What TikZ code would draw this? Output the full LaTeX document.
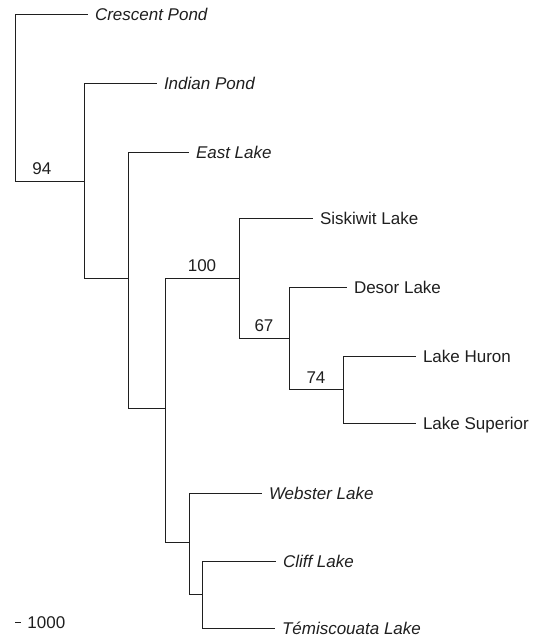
\documentclass[tikz,border=0pt]{standalone}
\usepackage{fontspec}
\setmainfont{Liberation Sans}

\begin{document}
\begin{tikzpicture}[x=1pt,y=-1pt,line width=0.8pt,color=black!88,
 leaf/.style={anchor=west,inner sep=3.5pt,outer sep=3.5pt,text height=12.2pt,text depth=0pt,font=\fontsize{17}{20}\selectfont},
 tax/.style={leaf,font=\fontsize{17}{20}\selectfont\itshape},
 boot/.style={above,inner sep=0pt,yshift=5.5pt,font=\fontsize{17}{20}\selectfont}]
\useasboundingbox (0,0) rectangle (539,638);
% tips
\node[tax] (cp) at (88,14) {Crescent Pond};
\node[tax] (ip) at (157,83) {Indian Pond};
\node[tax] (el) at (189,152) {East Lake};
\node[leaf] (sl) at (313,218) {Siskiwit Lake};
\node[leaf] (dl) at (347,287) {Desor Lake};
\node[leaf] (lh) at (416,356) {Lake Huron};
\node[leaf] (ls) at (416,423) {Lake Superior};
\node[tax] (wl) at (262,493) {Webster Lake};
\node[tax] (cl) at (276,561) {Cliff Lake};
\node[tax] (tl) at (275,628) {Témiscouata Lake};
% inner nodes
\coordinate (root) at (15,97); \coordinate (a) at (84,181);
\coordinate (b) at (128,278); \coordinate (c) at (165,408);
\coordinate (d) at (239,278); \coordinate (e) at (289,338);
\coordinate (f) at (343,389); \coordinate (g) at (189,542);
\coordinate (h) at (202,594);
\draw (root) |- (cp); \draw (root) |- (a) node[boot,pos=.695] {94};
\draw (a) |- (ip); \draw (a) |- (b);
\draw (b) |- (el); \draw (b) |- (c);
\draw (c) |- (d) node[boot,pos=.75] {100}; \draw (c) |- (g);
\draw (d) |- (sl); \draw (d) |- (e) node[boot,pos=.75] {67};
\draw (e) |- (dl); \draw (e) |- (f) node[boot,pos=.75] {74};
\draw (f) |- (lh); \draw (f) |- (ls);
\draw (g) |- (wl); \draw (g) |- (h);
\draw (h) |- (cl); \draw (h) |- (tl);
% scale
\coordinate (s0) at (15,622); \coordinate (s1) at (21,622);
\draw (s0) -- (s1);
\node[anchor=west,inner sep=0pt,text height=12.2pt,text depth=0pt,font=\fontsize{17}{20}\selectfont] (sc) at (27,622) {1000};
\end{tikzpicture}
\end{document}
